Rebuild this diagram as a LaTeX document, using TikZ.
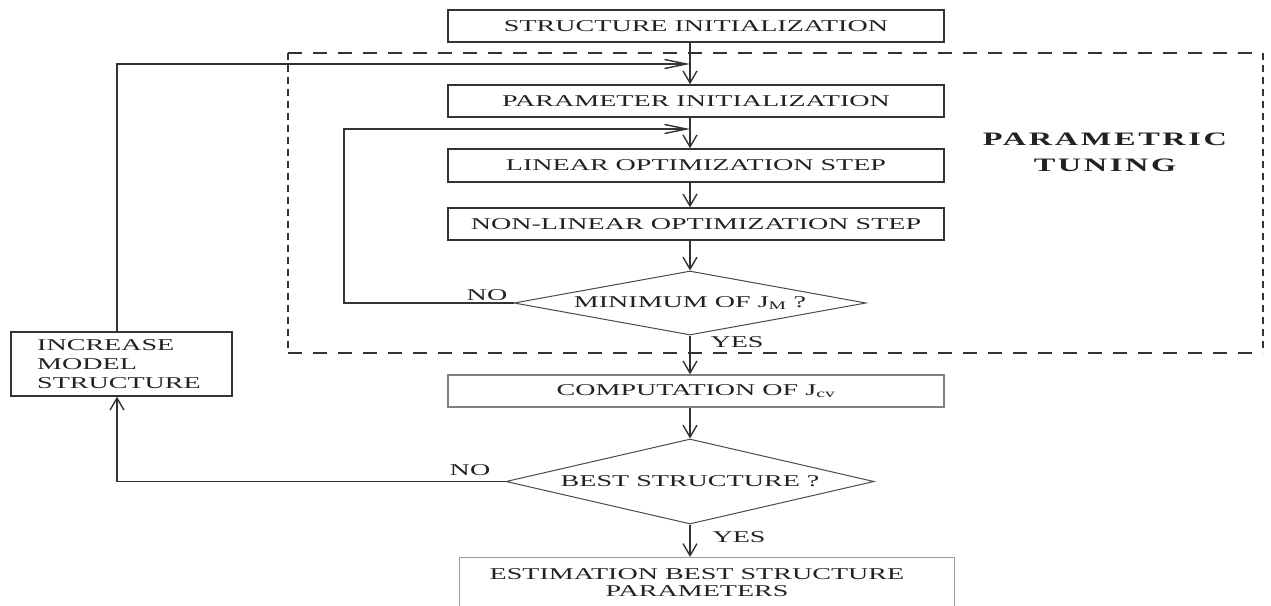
\documentclass[tikz,border=0pt]{standalone}
\usepackage{fontspec}
\setmainfont{Liberation Serif}[FakeStretch=1.7]
\newfontfamily\titlefont{Liberation Serif}[FakeStretch=1.7,LetterSpace=14]
\usetikzlibrary{arrows.meta,shapes.geometric}
\definecolor{ln}{HTML}{333333}
\definecolor{lg}{HTML}{808080}
\definecolor{lgg}{HTML}{9A9A9A}
\definecolor{dl}{HTML}{4A4A4A}
\definecolor{txt}{HTML}{222222}
\newcommand{\fs}{\fontsize{16.5}{19}\selectfont}
\begin{document}
\begin{tikzpicture}[x=1pt,y=-1pt,
  box/.style={draw=ln,line width=1.4pt,rectangle,inner sep=0pt,text=txt,font=\fs},
  dia/.style={draw=dl,line width=1pt,diamond,inner sep=0pt},
  lab/.style={text=txt,font=\fs,inner sep=0pt},
  conn/.style={draw=ln,line width=1.4pt},
  va/.style={conn,-{Straight Barb[length=12pt,width=14pt]}},
  ha/.style={conn,-{Straight Barb[length=22pt,width=9pt]}},
  frameh/.style={draw=ln,line width=1.3pt,dash pattern=on 14pt off 11pt},
  framev/.style={draw=ln,line width=1.3pt,dash pattern=on 7pt off 5pt}]
\useasboundingbox (0,0) rectangle (1271,605);
\fill[white] (0,0) rectangle (1271,605);

% axis helper coordinates
\coordinate (ax) at (690,0);
\coordinate (lx) at (117,0);
\coordinate (ix) at (344,0);

% dashed frame
\coordinate (f1) at (288,53);
\coordinate (f2) at (1263,53);
\coordinate (f3) at (1263,353);
\coordinate (f4) at (288,353);
\path[frameh] (f1) -- (f2);
\path[frameh] (f4) -- (f3);
\path[framev] (f1) -- (f4);
\path[framev] (f2) -- (f3);

% boxes
\node[box,minimum width=496pt,minimum height=32pt] (si) at (696,26) {STRUCTURE INITIALIZATION};
\node[box,minimum width=496pt,minimum height=32pt] (pi) at (696,101) {PARAMETER INITIALIZATION};
\node[box,minimum width=496pt,minimum height=33pt] (lin) at (696,165.5) {LINEAR OPTIMIZATION STEP};
\node[box,minimum width=496pt,minimum height=32pt] (nl) at (696,224) {NON-LINEAR OPTIMIZATION STEP};
\node[dia,minimum width=352pt,minimum height=64pt] (d1) at (690,303) {};
\node[lab] (d1t) at (d1.center) {MINIMUM OF J\textsubscript{M} ?};
\node[box,draw=lg,minimum width=496pt,minimum height=32pt] (cp) at (696,391) {COMPUTATION OF J\textsubscript{cv}};
\node[dia,minimum width=368pt,minimum height=85pt] (d2) at (690,481.5) {};
\node[lab] (d2t) at (d2.center) {BEST STRUCTURE ?};
\node[box,draw=lgg,minimum width=495pt,minimum height=63pt,anchor=north] (es) at (707,557) {};
\node[lab,align=center,font=\fontsize{16.5}{17}\selectfont] (est) at (697,583) {ESTIMATION BEST STRUCTURE\\PARAMETERS};
\node[box,minimum width=221pt,minimum height=64pt] (inc) at (121.5,364) {};
\node[lab,align=left,anchor=west] (inct) at (37,364) {INCREASE\\MODEL\\STRUCTURE};
\node[text=txt,font=\fontsize{19}{26}\selectfont\titlefont\bfseries,align=center,inner sep=0pt] (pt) at (1105,152) {PARAMETRIC\\TUNING};

% labels
\node[lab] (no1) at (487,295) {NO};
\node[lab] (yes1) at (737,342) {YES};
\node[lab] (no2) at (470,470) {NO};
\node[lab] (yes2) at (739,537) {YES};

% main flow
\draw[va] (si.south -| ax) -- (pi.north -| ax);
\draw[va] (pi.south -| ax) -- (lin.north -| ax);
\draw[va] (lin.south -| ax) -- (nl.north -| ax);
\draw[va] (nl.south -| ax) -- (d1.north);
\draw[va] (d1.south) -- (cp.north -| ax);
\draw[va] (cp.south -| ax) -- (d2.north);
\draw[va] (d2.south) -- (es.north -| ax);

% inner loop
\coordinate (iy) at (0,129);
\draw[ha] (d1.west) -- (d1.west -| ix) -- (iy -| ix) -- (iy -| ax);

% outer loop
\coordinate (oy) at (0,64);
\draw[va] (d2.west) -- (d2.west -| lx) -- (inc.south -| lx);
\draw[ha] (inc.north -| lx) -- (oy -| lx) -- (oy -| ax);
\end{tikzpicture}
\end{document}
